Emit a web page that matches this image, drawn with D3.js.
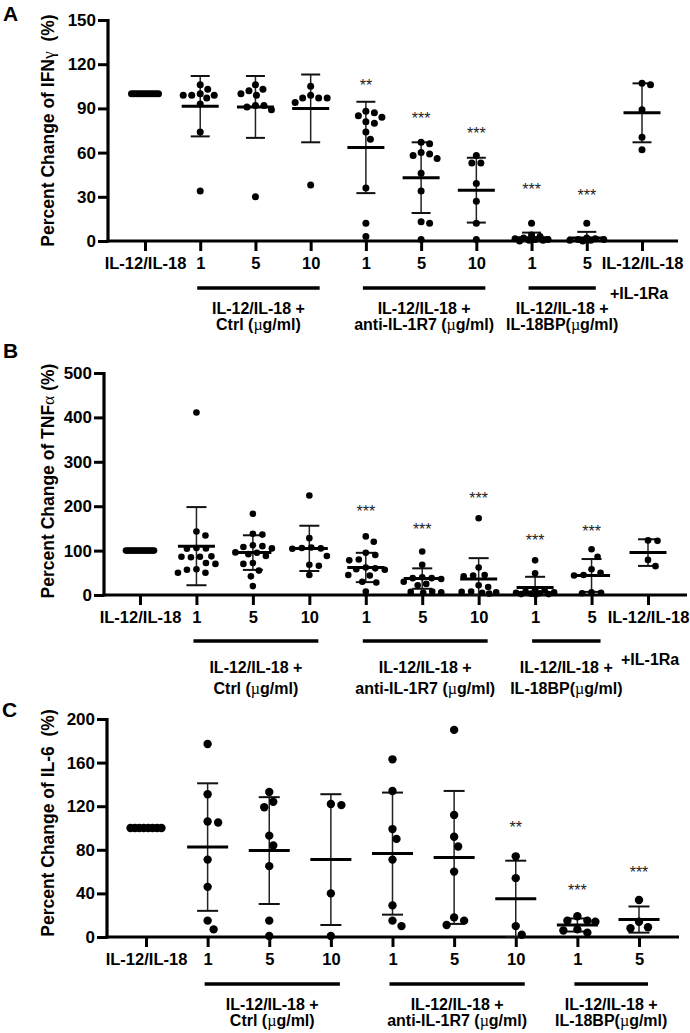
<!DOCTYPE html>
<html>
<head>
<meta charset="utf-8">
<script src="https://cdn.jsdelivr.net/npm/d3@7"></script>
<style>
  html, body { margin: 0; padding: 0; background: #fff; }
  text { font-family: "Liberation Sans", Arial, sans-serif; }
</style>
</head>
<body>
<script>
// ---------------- DATA ----------------
const catsA = ["IL-12/IL-18", "1", "5", "10", "1", "5", "10", "1", "5", "IL-12/IL-18"];
const catsB = ["IL-12/IL-18", "1", "5", "10", "1", "5", "10", "1", "5", "IL-12/IL-18"];
const catsC = ["IL-12/IL-18", "1", "5", "10", "1", "5", "10", "1", "5"];

const ticksA = [0, 30, 60, 90, 120, 150];
const ticksB = [0, 100, 200, 300, 400, 500];
const ticksC = [0, 40, 80, 120, 160, 200];

// Panel A – IFNγ
const pointsA = [
  [100, 100, 100, 100, 100, 100, 100, 100, 100, 100, 100, 100],
  [103, 106, 99, 99, 100, 99, 97, 93, 74, 34],
  [106, 100, 102, 103, 99, 92, 89, 92, 91, 30],
  [99, 105, 97, 97, 97, 94, 38],
  [84, 87, 85, 88, 81, 80, 74, 69, 36, 12, 3],
  [66, 67, 59, 58, 56, 60, 46, 34, 13, 12, 1],
  [58, 53, 53, 39, 27, 12, 1],
  [12, 4, 3, 2, 1.5, 1, 1, 0.5, 0.5, 0],
  [12, 2, 1.5, 1, 1, 0.5, 0.5, 0],
  [107, 106, 89, 70.5, 62]
];
const meansA = [100, 91.5, 91, 90, 63.5, 43, 34.5, 2.2, 2, 87];
const sdA    = [0, 20.5, 21, 23, 31, 24, 22, 3.5, 4.2, 20];
const sigA   = ["", "", "", "", "**", "***", "***", "***", "***", ""];
const sigYA  = [null, null, null, null, 108.6, 85.9, 76.2, 37.7, 33.6, null];

// Panel B – TNFα
const pointsB = [
  [100, 100, 100, 100, 100, 100, 100, 100, 100, 100, 100, 100, 100, 100, 100, 100],
  [411, 143, 134, 106, 105, 104, 87, 86, 86, 85, 72, 70, 58, 57, 50, 50],
  [183, 138, 136, 112, 110, 108, 105, 96, 95, 92, 88, 72, 70, 55, 42, 20],
  [224, 128, 107, 106, 105, 104, 88, 68, 66, 45],
  [132, 120, 95, 90, 80, 78, 62, 60, 58, 57, 45, 44, 30, 28, 8],
  [98, 68, 40, 38, 38, 36, 30, 25, 22, 8, 7, 6, 5],
  [173, 62, 45, 44, 42, 22, 18, 8, 7, 6, 5, 3],
  [78, 49, 12, 10, 8, 6, 5, 4, 3, 2, 2, 1],
  [103, 86, 58, 50, 45, 44, 6, 5, 4],
  [123, 122, 79, 65]
];
const meansB = [100, 110, 95.5, 105, 62, 37, 36, 17, 44, 95.5];
const sdB    = [0, 88, 39, 51, 33, 23, 47, 24, 37, 30];
const sigB   = ["", "", "", "", "***", "***", "***", "***", "***", ""];
const sigYB  = [null, null, null, null, 199, 158, 227, 133, 154, null];

// Panel C – IL-6
const pointsC = [
  [100, 100, 100, 100, 100, 100, 100, 100],
  [177, 131, 105, 106, 71, 46, 15, 7],
  [133, 124, 119, 93, 84, 65, 15, 1],
  [121, 122, 40, 1],
  [163, 134, 99, 90, 71, 29, 15, 10],
  [190, 112, 92, 83, 60, 18, 11, 15],
  [74, 54, 10, 2],
  [19, 15, 14, 15, 4, 6, 7],
  [34, 14, 8, 9]
];
const meansC = [100, 82.5, 79.3, 71, 76.5, 73, 35, 11, 16];
const sdC    = [0, 58.5, 49, 60, 56, 61, 35, 6, 12];
const sigC   = ["", "", "", "", "", "", "**", "***", "***"];
const sigYC  = [null, null, null, null, null, null, 104.6, 46.4, 63.3];

// group annotations (category index ranges + text)
const groupsAB = [
  { from: 1, to: 3, lines: ["IL-12/IL-18 +", "Ctrl (µg/ml)"] },
  { from: 4, to: 6, lines: ["IL-12/IL-18 +", "anti-IL-1R7 (µg/ml)"] },
  { from: 7, to: 8, lines: ["IL-12/IL-18 +", "IL-18BP(µg/ml)"] }
];
const groupsC = groupsAB;

const titleA = ["Percent Change of IFN", "γ", "  (%)"];
const titleB = ["Percent Change of TNF", "α", " (%)"];
const titleC = ["Percent Change of IL-6  (%)"];

// ---------------- DRAW ----------------
const W = 690, H = 1033;
const svg = d3.select("body").append("svg")
  .attr("width", W).attr("height", H)
  .style("display", "block");
svg.append("rect").attr("width", W).attr("height", H).attr("fill", "#fff");

function richText(sel, str) {
  const parts = str.split(/([µγα])/);
  parts.forEach(p => {
    if (!p) return;
    const t = sel.append("tspan").text(p);
    if (/[µγα]/.test(p)) {
      t.style("font-family", "'Liberation Serif', 'DejaVu Serif', serif").style("font-weight", "normal");
    }
  });
}

function swarm(values, y, cx, r, d, rowSpan, maxHalf) {
  const n = values.length;
  if (d3.min(values) === d3.max(values)) {
    return values.map((v, i) => ({ x: cx - rowSpan / 2 + (n > 1 ? i * rowSpan / (n - 1) : rowSpan / 2), y: y(v) }));
  }
  const pts = values.map(v => ({ v, y: y(v) })).sort((a, b) => a.y - b.y);
  const offsets = [];
  for (let k = 0; k <= maxHalf * 4; k++) {
    const o = (k % 2 ? 1 : -1) * Math.ceil(k / 2) * 0.5;
    if (Math.abs(o) <= maxHalf) offsets.push(o);
  }
  const placed = [];
  pts.forEach(p => {
    let chosen = null, bestO = 0, bestD = -1;
    for (const o of offsets) {
      let minD = Infinity;
      for (const q of placed) {
        const dx = (cx + o) - q.x, dy = p.y - q.y;
        minD = Math.min(minD, Math.sqrt(dx * dx + dy * dy));
      }
      if (minD >= d) { chosen = o; break; }
      if (minD > bestD + 0.01) { bestD = minD; bestO = o; }
    }
    placed.push({ x: cx + (chosen !== null ? chosen : bestO), y: p.y });
  });
  return placed;
}

function panel(cfg) {
  const g = svg.append("g");
  const y = d3.scaleLinear().domain([0, cfg.ticks[cfg.ticks.length - 1]]).range([cfg.yBot, cfg.yTop]);
  const x = d3.scalePoint().domain(cfg.cats.map((c, i) => i)).range([cfg.xFirst, cfg.xLast]);

  g.append("text").attr("x", cfg.letterX).attr("y", cfg.letterY)
    .attr("font-size", 21).attr("font-weight", "bold").text(cfg.letter);

  const tt = g.append("text")
    .attr("transform", `translate(${cfg.titleX},${(cfg.yTop + cfg.yBot) / 2 + cfg.titleShift}) rotate(-90)`)
    .attr("text-anchor", "middle").attr("font-size", 17.5).attr("font-weight", "bold")
    .style("white-space", "pre");
  cfg.title.forEach(s => richText(tt, s));

  const yAx = g.append("g").attr("transform", `translate(${cfg.axisX},0)`)
    .call(d3.axisLeft(y).tickValues(cfg.ticks).tickSize(10).tickSizeOuter(0).tickPadding(2));
  yAx.select(".domain").remove();
  yAx.selectAll(".tick line").attr("stroke", "#000").attr("stroke-width", 3);
  yAx.selectAll(".tick text").attr("font-size", 17).attr("font-weight", "bold").attr("fill", "#000")
    .style("font-family", "'Liberation Sans', Arial, sans-serif");

  const xAx = g.append("g").attr("transform", `translate(0,${cfg.yBot})`)
    .call(d3.axisBottom(x).tickSize(10).tickSizeOuter(0).tickFormat(i => cfg.cats[i]));
  xAx.select(".domain").remove();
  xAx.selectAll(".tick line").attr("stroke", "#000").attr("stroke-width", 3);
  xAx.selectAll(".tick text").attr("font-size", 16.5).attr("font-weight", "bold").attr("fill", "#000")
    .attr("y", 28).attr("dy", 0)
    .style("font-family", "'Liberation Sans', Arial, sans-serif");

  g.append("line").attr("x1", cfg.axisX).attr("x2", cfg.axisX).attr("y1", cfg.yTop - 1).attr("y2", cfg.yBot + 1.5)
    .attr("stroke", "#000").attr("stroke-width", 3.2);
  g.append("line").attr("x1", cfg.axisX - 1.5).attr("x2", cfg.xEnd).attr("y1", cfg.yBot).attr("y2", cfg.yBot)
    .attr("stroke", "#000").attr("stroke-width", 3.2);

  cfg.points.forEach((vals, i) => {
    const cx = x(i);
    const m = cfg.means[i], s = cfg.sds[i];
    if (s > 0) {
      const hi = y(m + s), lo = y(Math.max(0, m - s));
      g.append("line").attr("x1", cx).attr("x2", cx).attr("y1", hi).attr("y2", lo)
        .attr("stroke", "#222").attr("stroke-width", 1.5);
      g.append("line").attr("x1", cx - cfg.capHalf).attr("x2", cx + cfg.capHalf).attr("y1", hi).attr("y2", hi)
        .attr("stroke", "#111").attr("stroke-width", 2);
      g.append("line").attr("x1", cx - cfg.capHalf).attr("x2", cx + cfg.capHalf).attr("y1", lo).attr("y2", lo)
        .attr("stroke", "#111").attr("stroke-width", 2);
    }
    const pts = swarm(vals, y, cx, cfg.r, cfg.d, cfg.rowSpan, cfg.maxHalf);
    g.selectAll(null).data(pts).join("circle")
      .attr("cx", p => p.x).attr("cy", p => p.y).attr("r", cfg.r).attr("fill", "#000");
    if (s > 0) {
      g.append("line").attr("x1", cx - cfg.meanHalf).attr("x2", cx + cfg.meanHalf).attr("y1", y(m)).attr("y2", y(m))
        .attr("stroke", "#000").attr("stroke-width", 3);
    }
    if (cfg.sig[i]) {
      g.append("text").attr("x", cx).attr("y", y(cfg.sigY[i]) + 10).attr("text-anchor", "middle")
        .attr("font-size", 16).attr("fill", "#222").text(cfg.sig[i]);
    }
  });

  cfg.groups.forEach(gr => {
    const x1 = x(gr.from) - 3, x2 = x(gr.to) + 9;
    const ly = cfg.yBot + cfg.lineDy;
    g.append("line").attr("x1", x1).attr("x2", x2).attr("y1", ly).attr("y2", ly)
      .attr("stroke", "#000").attr("stroke-width", 3.5);
    gr.lines.forEach((s, k) => {
      const t = g.append("text").attr("x", (x1 + x2) / 2).attr("y", cfg.yBot + cfg.labDy[k])
        .attr("text-anchor", "middle").attr("font-size", 16).attr("font-weight", "bold");
      richText(t, s);
    });
  });
  if (cfg.raText) {
    g.append("text").attr("x", x(cfg.cats.length - 1) + cfg.raDx).attr("y", cfg.yBot + cfg.raDy)
      .attr("font-size", 16).attr("font-weight", "bold").text(cfg.raText);
  }
}

panel({
  letter: "A", letterX: 3, letterY: 21,
  cats: catsA, ticks: ticksA, points: pointsA, means: meansA, sds: sdA, sig: sigA, sigY: sigYA,
  title: titleA, titleX: 54, titleShift: 0,
  axisX: 108, yTop: 20, yBot: 241, xFirst: 145, xLast: 642, xEnd: 678,
  r: 3.5, d: 8.5, rowSpan: 27, maxHalf: 17, meanHalf: 18.5, capHalf: 9.5,
  groups: groupsAB, lineDy: 47, labDy: [73, 88.5], raText: "+IL-1Ra", raDx: -32, raDy: 58
});

panel({
  letter: "B", letterX: 3, letterY: 358,
  cats: catsB, ticks: ticksB, points: pointsB, means: meansB, sds: sdB, sig: sigB, sigY: sigYB,
  title: titleB, titleX: 54, titleShift: -3,
  axisX: 104, yTop: 373, yBot: 595, xFirst: 140, xLast: 648, xEnd: 687,
  r: 3.3, d: 9.5, rowSpan: 28, maxHalf: 19, meanHalf: 18.5, capHalf: 10,
  groups: groupsAB, lineDy: 46, labDy: [78, 99], raText: "+IL-1Ra", raDx: -27, raDy: 70
});

panel({
  letter: "C", letterX: 2, letterY: 717,
  cats: catsC, ticks: ticksC, points: pointsC, means: meansC, sds: sdC, sig: sigC, sigY: sigYC,
  title: titleC, titleX: 54, titleShift: -5,
  axisX: 107, yTop: 719, yBot: 937, xFirst: 146, xLast: 639, xEnd: 679,
  r: 4.2, d: 10.5, rowSpan: 31, maxHalf: 18, meanHalf: 20.5, capHalf: 10.5,
  groups: groupsC, lineDy: 47, labDy: [73, 88.5], raText: null, raDx: 0, raDy: 0
});
</script>
</body>
</html>
